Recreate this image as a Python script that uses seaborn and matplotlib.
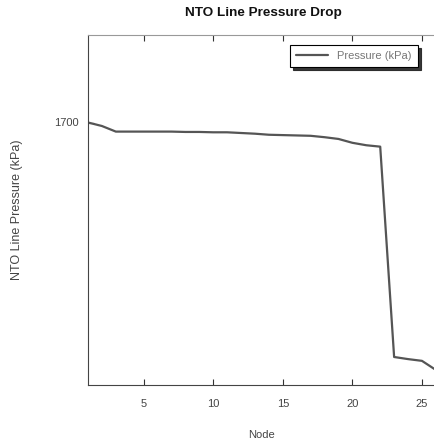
import matplotlib
matplotlib.use("Agg")
import matplotlib.pyplot as plt
import seaborn as sns
import pandas as pd

nodes = list(range(1, 27))
pressure = [1700.0, 1699.0, 1697.4, 1697.4, 1697.4, 1697.4, 1697.4, 1697.3, 1697.3, 1697.2,
            1697.2, 1697.0, 1696.8, 1696.5, 1696.4, 1696.3, 1696.2, 1695.8, 1695.3, 1694.2,
            1693.5, 1693.1, 1633.0, 1632.4, 1631.9, 1629.3]
x_ticks = [5, 10, 15, 20, 25]
y_ticks = [1700]

sns.set_style("white")
plt.rcParams['font.family'] = ['Liberation Sans', 'DejaVu Sans']

df = pd.DataFrame({"Node": nodes, "Pressure (kPa)": pressure})

fig = plt.figure(figsize=(4.35, 4.46), dpi=100)
ax = fig.add_axes([88/435, 61/446, 1 - 88/435 + 0.002, 350/446])
sns.lineplot(data=df, x="Node", y="Pressure (kPa)", ax=ax, color="#555555",
             linewidth=1.6, label="Pressure (kPa)")
ax.set_xlim(1, 26)
ax.set_ylim(1625, 1725)
ax.set_xticks(x_ticks)
ax.set_yticks(y_ticks)
ax.tick_params(axis='both', direction='in', length=4, labelsize=8, colors='#333333',
               top=True, bottom=True, left=True, right=False, labelcolor='#444444')
ax.tick_params(axis='x', pad=10)
ax.tick_params(axis='y', pad=7)
for s in ['left', 'bottom', 'top']:
    ax.spines[s].set_color('#444444')
    ax.spines[s].set_linewidth(0.8)
ax.spines['top'].set_color('#999999')
ax.spines['right'].set_visible(False)
ax.set_xlabel("Node", fontsize=8, color='#444444', labelpad=15)
ax.set_ylabel("NTO Line Pressure (kPa)", fontsize=9, color='#444444', labelpad=22)
fig.text(263/435, 1 - 13/446, "NTO Line Pressure Drop", ha='center', va='center',
         fontsize=9.7, fontweight='bold', color='#111111')
leg = ax.legend(loc='upper right', bbox_to_anchor=(0.948, 0.971), fontsize=8,
                frameon=True, fancybox=False,
                shadow={'color': '#222222', 'alpha': 0.9, 'ox': 2, 'oy': -2},
                handlelength=2.9, borderpad=0.55, borderaxespad=0, labelcolor='#777777')
leg.get_frame().set_edgecolor('black')
leg.get_frame().set_linewidth(0.8)
fig.savefig("out.png", dpi=100)
